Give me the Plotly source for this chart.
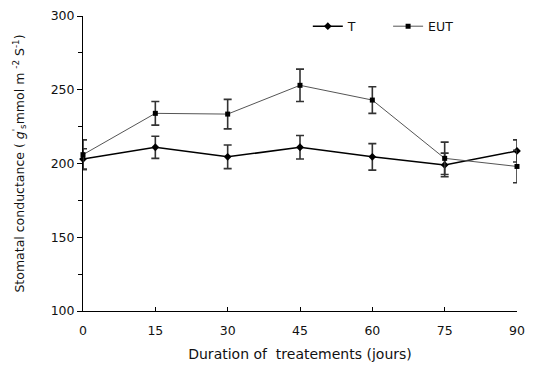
import plotly.graph_objects as go

days = [0, 15, 30, 45, 60, 75, 90]
t_vals = [203, 211, 204.5, 211, 204.5, 199, 208.5]
t_err = [7, 7.5, 8, 8, 9, 8, 7.5]
eut_vals = [206, 234, 233.5, 253, 243, 203.5, 198]
eut_err = [10, 8, 10, 11, 9, 11, 11]

FONT = "DejaVu Sans, Arial, sans-serif"

fig = go.Figure()
fig.add_trace(go.Scatter(
    x=days, y=t_vals, name="T", mode="lines+markers", legend="legend",
    line=dict(color="black", width=1.5),
    marker=dict(symbol="diamond", size=6, color="black"),
    error_y=dict(type="data", array=t_err, color="#333333", thickness=1.6, width=4),
    cliponaxis=False,
))
fig.add_trace(go.Scatter(
    x=days, y=eut_vals, name="EUT", mode="lines+markers", legend="legend2",
    line=dict(color="#555555", width=1),
    marker=dict(symbol="square", size=5, color="black"),
    error_y=dict(type="data", array=eut_err, color="#333333", thickness=1.6, width=4),
    cliponaxis=False,
))

leg_common = dict(orientation="h", y=1.015, xanchor="left", yanchor="top",
                  bgcolor="rgba(0,0,0,0)", font=dict(size=12.5))

fig.update_layout(
    width=533, height=370,
    margin=dict(l=83, r=8, t=14, b=59),
    plot_bgcolor="white", paper_bgcolor="white",
    font=dict(family=FONT, size=12.5, color="#111111"),
    showlegend=True,
    legend=dict(x=0.518, **leg_common),
    legend2=dict(x=0.703, **leg_common),
    xaxis=dict(
        range=[0, 90], tickvals=days, ticktext=[str(d) for d in days],
        showgrid=False, zeroline=False, showline=True, linecolor="black", linewidth=1,
        ticks="inside", ticklen=4, tickcolor="black", ticklabelstandoff=8,
        title=dict(text="Duration of  treatements (jours)", standoff=12, font=dict(size=14)),
    ),
    yaxis=dict(
        range=[100, 300], tickvals=[100, 150, 200, 250, 300],
        showgrid=False, zeroline=False, showline=True, linecolor="black", linewidth=1,
        ticks="outside", ticklen=5, tickcolor="black",
        minor=dict(dtick=25, ticks="outside", ticklen=4, tickcolor="black", showgrid=False),
        title=dict(text="Stomatal conductance ( <i>g</i><sup>'</sup><sub>s</sub>mmol m <sup>-2</sup> S<sup>-1</sup>)",
                   standoff=23, font=dict(size=12.5)),
    ),
)

fig.write_html("out.html")
